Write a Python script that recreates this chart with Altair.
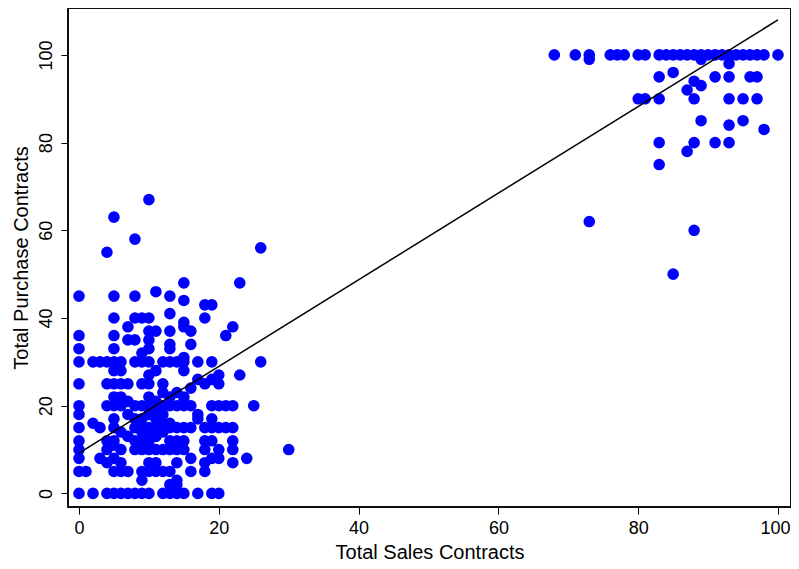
import altair as alt
import pandas as pd

# Purchase-contract levels (y) and the sales-contract values (x) found at each level
purchase_levels = [
    67, 63, 58, 56, 55, 48, 46, 45, 44, 43, 41, 40, 39, 38, 37, 36, 35, 34, 33, 32, 31,
    30, 28, 27, 26, 25, 24, 23, 22, 21, 20, 19, 18, 17, 16, 15, 14, 13, 12, 11, 10,
    8, 7, 5, 3, 2, 0,
    100, 99, 98, 96, 95, 94, 93, 92, 90, 85, 84, 83, 80, 78, 75, 62, 60, 50,
]
sales_at_level = [
    [10], [5], [8], [26], [4], [15, 23], [11], [0, 5, 8, 13], [15], [18, 19], [13],
    [5, 8, 9, 10, 18], [15], [7, 15, 22], [10, 11, 13, 16], [0, 5, 21], [7, 8, 10],
    [13, 16], [0, 5, 10, 13], [9], [15],
    [0, 2, 3, 4, 5, 6, 8, 9, 10, 12, 13, 14, 15, 17, 19, 26],
    [5, 6, 11, 15], [10, 20, 23], [17, 19], [0, 4, 5, 6, 7, 9, 10, 12, 18, 20], [16],
    [12, 14], [5, 6, 10, 13, 15], [7, 11, 15],
    [0, 4, 5, 6, 8, 9, 10, 12, 13, 14, 15, 16, 19, 20, 21, 22, 25],
    [11], [0, 7, 10, 12, 17], [5, 8, 9, 11, 17, 19], [2, 12, 13],
    [0, 3, 5, 8, 9, 10, 11, 13, 14, 15, 16, 18, 19, 20, 21, 22],
    [6, 9, 10, 12], [7, 11], [0, 4, 5, 8, 9, 10, 13, 14, 15, 18, 19, 22], [5, 10],
    [0, 4, 6, 8, 9, 10, 11, 12, 13, 14, 15, 18, 20, 22, 30],
    [0, 3, 5, 16, 19, 20, 24], [4, 6, 10, 11, 14, 18, 22],
    [0, 1, 5, 6, 7, 9, 10, 11, 12, 13, 16, 18], [9, 14], [13, 14],
    [0, 2, 4, 5, 6, 7, 8, 9, 10, 12, 13, 14, 15, 17, 19, 20],
    [68, 71, 73, 76, 77, 78, 80, 81, 83, 84, 85, 86, 87, 88, 89, 90, 91, 92, 93, 94,
     95, 96, 97, 98, 100],
    [73, 89], [93], [85], [83, 91, 93, 96, 97], [88], [89], [87],
    [80, 81, 83, 88, 93, 95, 97], [89, 95], [93], [98], [83, 88, 91, 93], [87], [83],
    [73], [88], [85],
]

# Fitted regression line end points
fit_x = [0, 100]
fit_y = [9.2, 108.0]

x_ticks = [0, 20, 40, 60, 80, 100]
y_ticks = [0, 20, 40, 60, 80, 100]

rows = []
for yv, xs in zip(purchase_levels, sales_at_level):
    for xv in xs:
        rows.append({"sales": xv, "purchase": yv})
pts = pd.DataFrame(rows)
line_df = pd.DataFrame({"sales": fit_x, "purchase": fit_y})

FONT = "Liberation Sans"
W, H = 723, 499

xscale = alt.Scale(domain=[-1.574, 101.86], nice=False, zero=False)
yscale = alt.Scale(domain=[-3.1, 110.7], nice=False, zero=False)

xaxis = alt.Axis(
    title="Total Sales Contracts", values=x_ticks, grid=False, domain=False,
    tickSize=7, tickColor="black", tickWidth=1, labelFont=FONT, labelFontSize=18,
    labelColor="black", labelPadding=5,
    labelOffset={"condition": {"test": "datum.value == 100", "value": -3}, "value": 0},
    titleFont=FONT, titleFontSize=20,
    titleFontWeight="normal", titleColor="black", titleY=51,
    titleBaseline="alphabetic",
)
yaxis = alt.Axis(
    title="Total Purchase Contracts", values=y_ticks, grid=False, domain=False,
    tickSize=7, tickColor="black", tickWidth=1, labelFont=FONT, labelFontSize=18,
    labelColor="black", labelAngle=270, labelAlign="center",
    labelBaseline="bottom", labelPadding=6, titleFont=FONT, titleFontSize=20,
    titleFontWeight="normal", titleColor="black", titleX=-41,
    titleBaseline="alphabetic",
)

points = alt.Chart(pts).mark_circle(size=135, color="#0000FF", opacity=1).encode(
    x=alt.X("sales:Q", scale=xscale, axis=xaxis),
    y=alt.Y("purchase:Q", scale=yscale, axis=yaxis),
)

fit = alt.Chart(line_df).mark_line(color="black", strokeWidth=1.5).encode(
    x=alt.X("sales:Q", scale=xscale),
    y=alt.Y("purchase:Q", scale=yscale),
)

frame = alt.Chart(line_df).mark_rect(
    fill=None, stroke="black", strokeWidth=1.5
).encode(
    x=alt.value(0), x2=alt.value(W), y=alt.value(0), y2=alt.value(H),
)

chart = (
    alt.layer(points, fit, frame)
    .properties(
        width=W, height=H,
        background="white",
        autosize=alt.AutoSizeParams(type="none"),
        padding={"left": 60, "top": 0, "right": 0, "bottom": 54},
    )
    .configure_view(stroke=None)
)

chart.save("out.html", embed_options={"renderer": "svg", "actions": False})
